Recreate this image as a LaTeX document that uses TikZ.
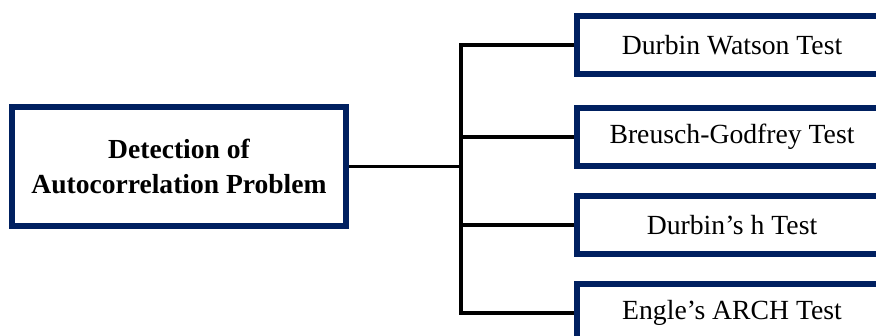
\documentclass[tikz,border=0pt]{standalone}
\usepackage{fontspec}
\setmainfont{Liberation Serif}
\usepackage{tikz}
\usetikzlibrary{
  positioning,
  calc
}
\definecolor{navy}{HTML}{002060}

\begin{document}
\begin{tikzpicture}[
    every node/.style={font=\fontsize{19.7}{25.5}\selectfont},
    mainbox/.style={draw=navy, line width=0.15cm, minimum width=8.35cm,
                    minimum height=2.975cm, align=center,
                    font=\fontsize{19.6}{25.5}\selectfont\bfseries},
    testbox/.style={draw=navy, line width=0.15cm, minimum width=7.75cm,
                    minimum height=1.45cm},
    conn/.style={line width=0.085cm, black}
]
% ========== 画布 ==========
\useasboundingbox (0,0) rectangle (21.9,8.4);
\clip (0,0) rectangle (21.9,8.4);

\def\trunkX{11.525} % 分叉竖线位置

% ========== 主框 ==========
\node[mainbox] (detect) at (4.475,4.2375) {Detection of\\Autocorrelation Problem};

% ========== 检验方法 ==========
\node[testbox, anchor=west] (dw) at (14.35,7.275) {Durbin Watson Test};
\node[testbox, below=0.7cm of dw] (bg) {Breusch-Godfrey Test};
\node[testbox, below=0.6cm of bg] (dh) {Durbin’s h Test};
\node[testbox, below=0.6cm of dh] (arch) {Engle’s ARCH Test};

% ========== 连线 ==========
\coordinate (split) at (\trunkX,0 |- detect.east);
\draw[conn] (detect.east) -- (split);
\foreach \t in {dw, bg, dh, arch} {
    \draw[conn] (split) |- (\t.west);
}

\end{tikzpicture}
\end{document}
